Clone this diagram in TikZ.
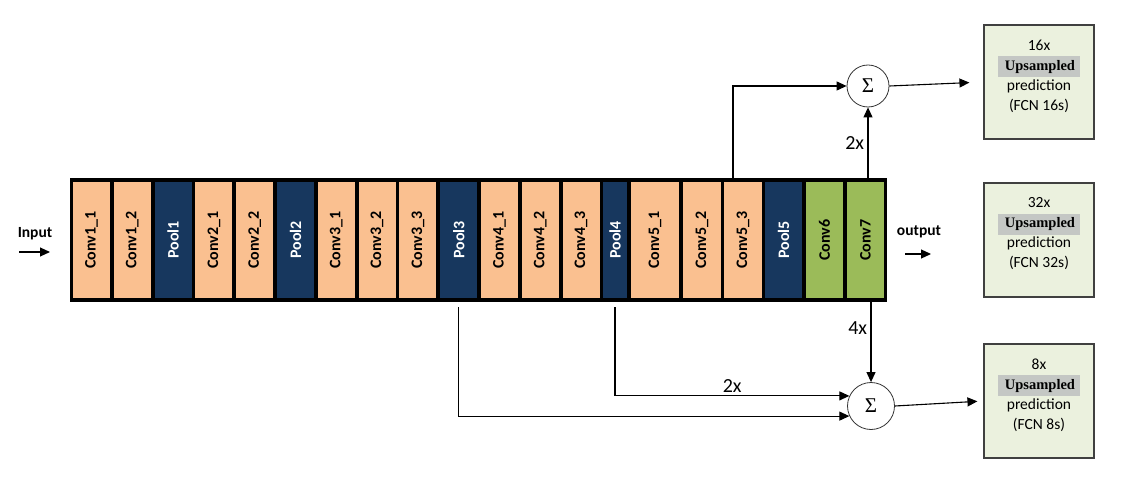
\documentclass[tikz,border=0pt]{standalone}
\usepackage{fontspec}
\setmainfont{Carlito}
\newfontfamily\serfont{Liberation Serif}
\usepackage{xcolor}
\usepackage{tikz}
\usetikzlibrary{arrows.meta,positioning}

\definecolor{convpeach}{RGB}{250,192,144}
\definecolor{pooldark}{RGB}{23,55,94}
\definecolor{fcgreen}{RGB}{155,187,89}
\definecolor{boxgreen}{RGB}{235,241,222}
\definecolor{boxedge}{RGB}{64,64,64}
\definecolor{hlgray}{RGB}{196,199,196}

\newcommand{\vlab}[1]{\rotatebox{90}{#1}}
\newcommand{\upbox}{{\setlength{\fboxsep}{4pt}\colorbox{hlgray}{\hspace{3pt}\serfont\bfseries\fontsize{14.5}{16}\selectfont Upsampled\hspace{1pt}}}}

\begin{document}
\begin{tikzpicture}[
			x = 1pt, y = -1pt,
			cell/.style = {inner sep = 0, minimum height = 116pt, font = \bfseries\fontsize{16}{16}\selectfont},
			conv/.style = {cell, fill = convpeach},
			pool/.style = {cell, fill = pooldark, text = white},
			fc/.style = {cell, fill = fcgreen},
			sumnode/.style = {circle, draw = black!80, line width = 0.8pt, fill = white, inner sep = 0, font = \serfont\fontsize{21}{21}\selectfont},
			outbox/.style = {draw = boxedge, line width = 1.2pt, fill = boxgreen, minimum width = 110pt, minimum height = 114pt},
			outtext/.style = {align = center, font = \fontsize{15.5}{20}\selectfont},
			link/.style = {line width = 1.1pt, -{Triangle[length=10pt,width=9pt]}},
			lbl/.style = {font = \fontsize{20}{20}\selectfont},
			io/.style = {font = \bfseries\fontsize{15.5}{15.5}\selectfont}
			]

			\useasboundingbox (0,0) rectangle (1123,478);

			% network body
			\node[fill = black, inner sep = 0, minimum width = 817pt, minimum height = 124pt] (net) at (478.5,240) {};

			\node[conv, minimum width = 37pt] (c11) at (91.5,240) {\vlab{Conv1\_1}};
			\node[conv, minimum width = 37pt] (c12) at (132.3,240) {\vlab{Conv1\_2}};
			\node[pool, minimum width = 37pt] (p1) at (173.1,240) {\vlab{Pool1}};
			\node[conv, minimum width = 37pt] (c21) at (213.9,240) {\vlab{Conv2\_1}};
			\node[conv, minimum width = 37pt] (c22) at (254.7,240) {\vlab{Conv2\_2}};
			\node[pool, minimum width = 37pt] (p2) at (295.5,240) {\vlab{Pool2}};
			\node[conv, minimum width = 37pt] (c31) at (336.3,240) {\vlab{Conv3\_1}};
			\node[conv, minimum width = 37pt] (c32) at (377.1,240) {\vlab{Conv3\_2}};
			\node[conv, minimum width = 37pt] (c33) at (417.9,240) {\vlab{Conv3\_3}};
			\node[pool, minimum width = 37pt] (p3) at (458.7,240) {\vlab{Pool3}};
			\node[conv, minimum width = 37pt] (c41) at (499.5,240) {\vlab{Conv4\_1}};
			\node[conv, minimum width = 37pt] (c42) at (540.3,240) {\vlab{Conv4\_2}};
			\node[conv, minimum width = 37pt] (c43) at (581.1,240) {\vlab{Conv4\_3}};
			\node[pool, minimum width = 24pt] (p4) at (615,240) {\vlab{Pool4}};
			\node[conv, minimum width = 48pt] (c51) at (655,240) {\vlab{Conv5\_1}};
			\node[conv, minimum width = 38pt] (c52) at (702,240) {\vlab{Conv5\_2}};
			\node[conv, minimum width = 38pt] (c53) at (743,240) {\vlab{Conv5\_3}};
			\node[pool, minimum width = 37pt] (p5) at (783.5,240) {\vlab{Pool5}};
			\node[fc, minimum width = 37pt] (c6) at (824.5,240) {\vlab{Conv6}};
			\node[fc, minimum width = 37pt] (c7) at (865.5,240) {\vlab{Conv7}};

			% input / output
			\node[io] (input) at (35,234) {Input};
			\coordinate (in1) at (19,252);
			\coordinate (in2) at (50,252);
			\draw[link] (in1) -- (in2);
			\node[io] (output) at (919,232) {output};
			\coordinate (out1) at (905,254);
			\coordinate (out2) at (931,254);
			\draw[link] (out1) -- (out2);

			% fusion
			\node[sumnode, minimum size = 42pt] (s16) at (868,86) {Σ};
			\node[sumnode, minimum size = 47pt] (s8) at (871,406) {Σ};

			% predictions
			\node[outbox] (b16) at (1039,82) {};
			\node[outtext] (t16) at ([yshift=6pt]b16.center) {16x\\\upbox\\prediction\\(FCN 16s)};
			\node[outbox] (b32) at (1039,240) {};
			\node[outtext] (t32) at ([yshift=6pt]b32.center) {32x\\\upbox\\prediction\\(FCN 32s)};
			\node[outbox] (b8) at (1039,401) {};
			\node[outtext] (t8) at ([yshift=6pt]b8.center) {8x\\\upbox\\prediction\\(FCN 8s)};

			\draw[link] ([xshift=-10pt]c53.north) |- (s16.west);
			\draw[link] (s16.south |- net.north) -- node[lbl, left, pos=0.5]{2x} (s16.south);
			\draw[link, shorten >= 14pt] (s16.east) -- (b16.west);

			\draw[link] (s8.north |- net.south) -- node[lbl, left, pos=0.33]{4x} (s8.north);
			\draw[link] ([yshift=-9pt]p4.south) |- node[lbl, above, pos=0.75]{2x} (s8.155);
			\draw[link] ([yshift=-9pt]p3.south) |- (s8.205);
			\draw[link, shorten >= 6pt] (s8.east) -- (b8.west);

		\end{tikzpicture}
\end{document}
